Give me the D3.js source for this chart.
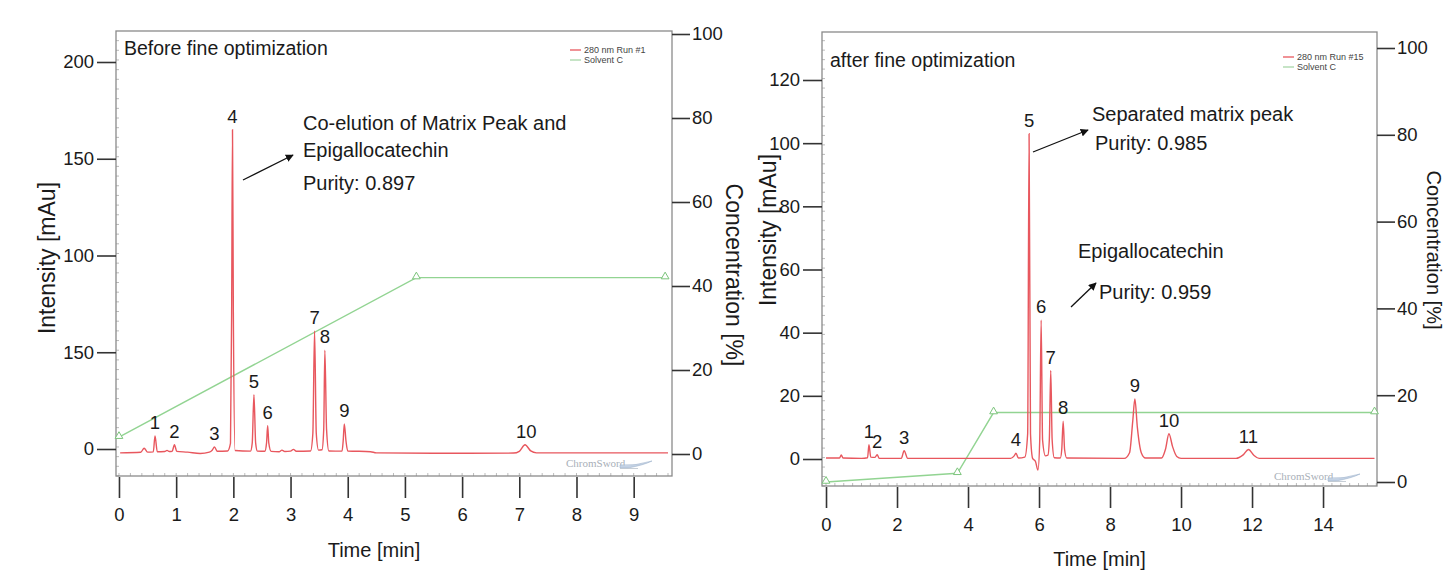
<!DOCTYPE html>
<html>
<head>
<meta charset="utf-8">
<script src="https://cdn.jsdelivr.net/npm/d3@7"></script>
<style>
body { margin: 0; background: #fff; }
svg { display: block; font-family: "Liberation Sans", Arial, sans-serif; }
</style>
</head>
<body>
<svg id="chart" width="1444" height="570"></svg>
<script>
// ---- data ----

// before fine optimization: [time min, intensity mAu]
const traceBefore = [
    [0.02, -2.0], [0.38, -1.7], [0.44, 0.4], [0.5, -1.6], [0.6, -1.5], [0.63, 6.7], [0.67, -1.4],
    [0.8, -1.3], [0.84, -0.7], [0.88, -1.3], [0.93, -1.2], [0.97, 2.2], [1.01, -1.2], [1.2, -1.6],
    [1.42, -2.3], [1.58, -1.6], [1.63, -0.6], [1.67, 1.0], [1.72, -1.2], [1.9, -1.0], [1.95, 3],
    [1.97, 70], [1.985, 165], [2.0, 70], [2.03, -0.8], [2.3, -1.1], [2.33, 3], [2.36, 28],
    [2.39, 3], [2.42, -1.1], [2.55, -1.2], [2.58, 3], [2.6, 12], [2.62, 3], [2.66, -1.2],
    [2.8, -1.4], [2.85, -0.6], [2.9, -1.3], [3.0, -1.1], [3.05, -0.2], [3.1, -1.2], [3.35, -1.0],
    [3.39, 8], [3.42, 61], [3.45, 8], [3.49, -0.6], [3.55, -0.4], [3.58, 10], [3.6, 51],
    [3.63, 10], [3.67, -1.0], [3.9, -1.1], [3.92, 4], [3.94, 13], [3.97, 4], [4.0, -1.0],
    [4.4, -1.4], [4.5, -2.0], [5.5, -2.2], [6.9, -2.1], [7.0, -1.2], [7.1, 2.2], [7.2, -1.0],
    [7.3, -2.0], [8.5, -2.0], [9.6, -2.0]
]
const gradientBefore = [[0, 4], [5.2, 42], [9.55, 42]]
const peaksBefore = [
    ["1", 0.63, 6.7], ["2", 0.97, 2.2], ["3", 1.67, 1.0], ["4", 1.985, 165], ["5", 2.36, 28],
    ["6", 2.6, 12], ["7", 3.42, 61], ["8", 3.6, 51], ["9", 3.94, 13], ["10", 7.12, 2.2]
]

// after fine optimization
const traceAfter = [
    [0, 0.3], [0.38, 0.3], [0.43, 1.3], [0.48, 0.3], [1.0, 0.2], [1.17, 0.4], [1.21, 4.5],
    [1.26, 0.6], [1.38, 0.5], [1.44, 1.4], [1.5, 0.2], [2.12, 0.2], [2.2, 2.6], [2.3, 0.2],
    [5.2, 0.2], [5.3, 1.0], [5.35, 1.8], [5.42, 0.3], [5.6, 0.6], [5.68, 8], [5.72, 103],
    [5.76, 8], [5.82, 0.2], [5.9, -0.8], [5.97, -3.5], [6.02, 6], [6.06, 44], [6.1, 6],
    [6.18, 1.0], [6.25, 1.2], [6.29, 6], [6.33, 28], [6.37, 6], [6.43, 0.4], [6.6, 0.3],
    [6.64, 3], [6.68, 12], [6.72, 3], [6.78, 0.3], [8.4, 0.2], [8.55, 2], [8.64, 12],
    [8.7, 19], [8.77, 10], [8.88, 2], [9.0, 0.3], [9.45, 0.3], [9.56, 3], [9.66, 8],
    [9.76, 4], [9.88, 0.8], [10.0, 0.2], [11.55, 0.2], [11.75, 1.3], [11.9, 3], [12.05, 1.2],
    [12.2, 0.2], [15.45, 0.2]
]
const gradientAfter = [[0, 0], [3.7, 2], [4.72, 16], [15.45, 16]]
const peaksAfter = [
    ["1", 1.21, 4.5], ["2", 1.44, 1.4], ["3", 2.2, 2.6], ["4", 5.35, 1.8], ["5", 5.72, 103],
    ["6", 6.06, 44], ["7", 6.33, 28], ["8", 6.68, 12], ["9", 8.7, 19], ["10", 9.66, 8],
    ["11", 11.9, 3]
]

const timeTicksBefore = [0, 1, 2, 3, 4, 5, 6, 7, 8, 9]
const timeTicksAfter = [0, 2, 4, 6, 8, 10, 12, 14]
const intTicksBefore = [0, 50, 100, 150, 200]
const intLabelsBefore = ["0", "150", "100", "150", "200"]   // as printed in the figure
const intTicksAfter = [0, 20, 40, 60, 80, 100, 120]
const concTicks = [0, 20, 40, 60, 80, 100]

const svg = d3.select("#chart")
const defs = svg.append("defs")
const ink = "#1a1a1a"

defs.append("marker")
    .attr("id", "arrow")
    .attr("viewBox", "0 0 10 10")
    .attr("refX", 9).attr("refY", 5)
    .attr("markerWidth", 8).attr("markerHeight", 8)
    .attr("markerUnits", "userSpaceOnUse")
    .attr("orient", "auto")
    .append("path")
    .attr("d", "M0,0 L10,5 L0,10 z")
    .attr("fill", "#111")

function drawPanel(p) {
    const g = svg.append("g")

    const x = d3.scaleLinear().domain(p.xDomain).range([p.box.x0, p.box.x1])
    const yInt = d3.scaleLinear().domain([0, p.intRef]).range(p.intRange)
    const yConc = d3.scaleLinear().domain([0, 100]).range(p.concRange)

    defs.append("clipPath").attr("id", "clip" + p.id)
        .append("rect")
        .attr("x", p.box.x0).attr("y", p.box.y0)
        .attr("width", p.box.x1 - p.box.x0).attr("height", p.box.y1 - p.box.y0)

    // minor ruler ticks along the inside of the frame
    const minorX = d3.range(Math.ceil(p.xDomain[0] / p.minorStep) * p.minorStep, p.xDomain[1], p.minorStep)
    g.append("g").selectAll("line").data(minorX).join("line")
        .attr("x1", d => x(d)).attr("x2", d => x(d))
        .attr("y1", p.box.y1).attr("y2", p.box.y1 - 3)
        .attr("stroke", "#aaa").attr("stroke-width", 0.8)
    const minorY = d3.range(yInt.invert(p.box.y1), yInt.invert(p.box.y0), p.intRef / 40)
    g.append("g").selectAll("line").data(minorY).join("line")
        .attr("x1", p.box.x0).attr("x2", p.box.x0 + 3)
        .attr("y1", d => yInt(d)).attr("y2", d => yInt(d))
        .attr("stroke", "#aaa").attr("stroke-width", 0.8)

    // frame
    g.append("rect")
        .attr("x", p.box.x0).attr("y", p.box.y0)
        .attr("width", p.box.x1 - p.box.x0).attr("height", p.box.y1 - p.box.y0)
        .attr("fill", "none").attr("stroke", "#8a8a8a").attr("stroke-width", 1.3)

    // solvent gradient
    const gLine = d3.line().x(d => x(d[0])).y(d => yConc(d[1]))
    g.append("path")
        .datum(p.gradient)
        .attr("d", gLine)
        .attr("fill", "none").attr("stroke", "#92d492").attr("stroke-width", 1.4)
        .attr("clip-path", "url(#clip" + p.id + ")")
    g.append("g").selectAll("path").data(p.gradient).join("path")
        .attr("d", d3.symbol(d3.symbolTriangle).size(26))
        .attr("transform", d => "translate(" + x(d[0]) + "," + (yConc(d[1]) - 1) + ")")
        .attr("fill", "#fff").attr("stroke", "#7cc47c").attr("stroke-width", 1)

    // chromatogram trace
    const tLine = d3.line().x(d => x(d[0])).y(d => yInt(d[1])).curve(d3.curveMonotoneX)
    g.append("path")
        .datum(p.trace)
        .attr("d", tLine)
        .attr("fill", "none").attr("stroke", "#e8575e").attr("stroke-width", 1.4)
        .attr("clip-path", "url(#clip" + p.id + ")")

    // peak numbers
    g.append("g").selectAll("text").data(p.peaks).join("text")
        .attr("x", d => x(d[1]))
        .attr("y", d => yInt(d[2]) - 7)
        .attr("text-anchor", "middle")
        .attr("font-size", 18.5).attr("fill", ink)
        .text(d => d[0])

    // axes
    const ax = g.append("g")
        .attr("transform", "translate(0," + (p.box.y1 + 1) + ")")
        .call(d3.axisBottom(x).tickValues(p.timeTicks).tickSize(21).tickPadding(10))
    const ayl = g.append("g")
        .attr("transform", "translate(" + p.box.x0 + ",0)")
        .call(d3.axisLeft(yInt).tickValues(p.intTicks)
            .tickFormat((d, i) => p.intLabels ? p.intLabels[i] : d)
            .tickSize(19).tickPadding(3))
    const ayr = g.append("g")
        .attr("transform", "translate(" + p.box.x1 + ",0)")
        .call(d3.axisRight(yConc).tickValues(concTicks).tickSize(18).tickPadding(2))
    for (const a of [ax, ayl, ayr]) {
        a.select(".domain").remove()
        a.selectAll("line").attr("stroke", "#333").attr("stroke-width", 1.6)
        a.selectAll("text").attr("font-size", 18.5).attr("fill", ink)
            .attr("font-family", "'Liberation Sans', Arial, sans-serif")
    }

    // axis titles
    g.append("text")
        .attr("transform", "translate(" + p.intTitle[0] + "," + p.intTitle[1] + ") rotate(-90)")
        .attr("text-anchor", "middle").attr("dominant-baseline", "central")
        .attr("font-size", 23).attr("fill", ink)
        .text("Intensity [mAu]")
    g.append("text")
        .attr("transform", "translate(" + p.concTitle[0] + "," + p.concTitle[1] + ") rotate(90)")
        .attr("text-anchor", "middle").attr("dominant-baseline", "central")
        .attr("font-size", p.concTitleSize).attr("fill", ink)
        .text("Concentration [%]")
    g.append("text")
        .attr("x", (p.box.x0 + p.box.x1) / 2 + p.timeTitleDx).attr("y", p.timeTitleY)
        .attr("text-anchor", "middle")
        .attr("font-size", 20).attr("fill", ink)
        .text("Time [min]")

    // panel caption
    g.append("text")
        .attr("x", p.box.x0 + 8).attr("y", p.captionY)
        .attr("font-size", 19.5).attr("fill", ink)
        .text(p.caption)

    // legend
    const lg = g.append("g").attr("transform", "translate(" + p.legend[0] + "," + p.legend[1] + ")")
    lg.append("line").attr("x1", 0).attr("x2", 11).attr("y1", 0).attr("y2", 0)
        .attr("stroke", "#e8575e").attr("stroke-width", 1.3)
    lg.append("line").attr("x1", 0).attr("x2", 11).attr("y1", 10).attr("y2", 10)
        .attr("stroke", "#a8d6a8").attr("stroke-width", 1.3)
    lg.append("text").attr("x", 14).attr("y", 3).attr("font-size", 9).attr("fill", "#444")
        .text(p.runName)
    lg.append("text").attr("x", 14).attr("y", 13).attr("font-size", 9).attr("fill", "#444")
        .text("Solvent C")

    // ChromSword watermark
    const wm = g.append("g").attr("transform", "translate(" + p.logo[0] + "," + p.logo[1] + ")")
    wm.append("text").attr("x", 0).attr("y", 0)
        .attr("font-family", "'Liberation Serif', 'DejaVu Serif', serif")
        .attr("font-size", 11).attr("fill", "#a9b0b8")
        .text("ChromSword")
    wm.append("path")
        .attr("d", "M54,-2 Q70,-1 86,-6 Q78,-2 62,1 L54,1 Z")
        .attr("fill", "#c4d2e4").attr("stroke", "#9fb3cc").attr("stroke-width", 0.6)
    wm.append("line").attr("x1", 54).attr("x2", 72).attr("y1", 1.5).attr("y2", 1.5)
        .attr("stroke", "#b9c2cc").attr("stroke-width", 0.8)

    // annotations
    for (const t of p.notes) {
        g.append("text").attr("x", t[0]).attr("y", t[1])
            .attr("font-size", 20).attr("fill", ink).text(t[2])
    }
    for (const a of p.arrows) {
        g.append("line")
            .attr("x1", a[0]).attr("y1", a[1]).attr("x2", a[2]).attr("y2", a[3])
            .attr("stroke", "#111").attr("stroke-width", 1.3)
            .attr("marker-end", "url(#arrow)")
    }
}

drawPanel({
    id: "A",
    box: {x0: 116, x1: 672, y0: 31, y1: 476},
    xDomain: [-0.052, 9.67],
    intRef: 200, intRange: [449, 62],
    concRange: [454, 34],
    minorStep: 0.2,
    trace: traceBefore, gradient: gradientBefore, peaks: peaksBefore,
    timeTicks: timeTicksBefore, intTicks: intTicksBefore, intLabels: intLabelsBefore,
    intTitle: [47, 258], concTitle: [734, 275], concTitleSize: 23,
    timeTitleDx: -20, timeTitleY: 557,
    caption: "Before fine optimization", captionY: 55,
    legend: [570, 50], runName: "280 nm Run #1",
    logo: [566, 467],
    notes: [
        [303, 130, "Co-elution of Matrix Peak and"],
        [303, 157, "Epigallocatechin"],
        [303, 190, "Purity: 0.897"]
    ],
    arrows: [[243, 180, 293, 155]]
})

drawPanel({
    id: "B",
    box: {x0: 822, x1: 1377, y0: 32, y1: 486},
    xDomain: [-0.113, 15.52],
    intRef: 120, intRange: [459, 80],
    concRange: [482, 48],
    minorStep: 0.25,
    trace: traceAfter, gradient: gradientAfter, peaks: peaksAfter,
    timeTicks: timeTicksAfter, intTicks: intTicksAfter, intLabels: null,
    intTitle: [768, 230], concTitle: [1434, 250], concTitleSize: 20,
    timeTitleDx: 0, timeTitleY: 566,
    caption: "after fine optimization", captionY: 67,
    legend: [1283, 57], runName: "280 nm Run #15",
    logo: [1274, 480],
    notes: [
        [1092, 121, "Separated matrix peak"],
        [1095, 150, "Purity: 0.985"],
        [1078, 258, "Epigallocatechin"],
        [1099, 299, "Purity: 0.959"]
    ],
    arrows: [[1033, 152, 1088, 130], [1071, 307, 1096, 283]]
})
</script>
</body>
</html>
